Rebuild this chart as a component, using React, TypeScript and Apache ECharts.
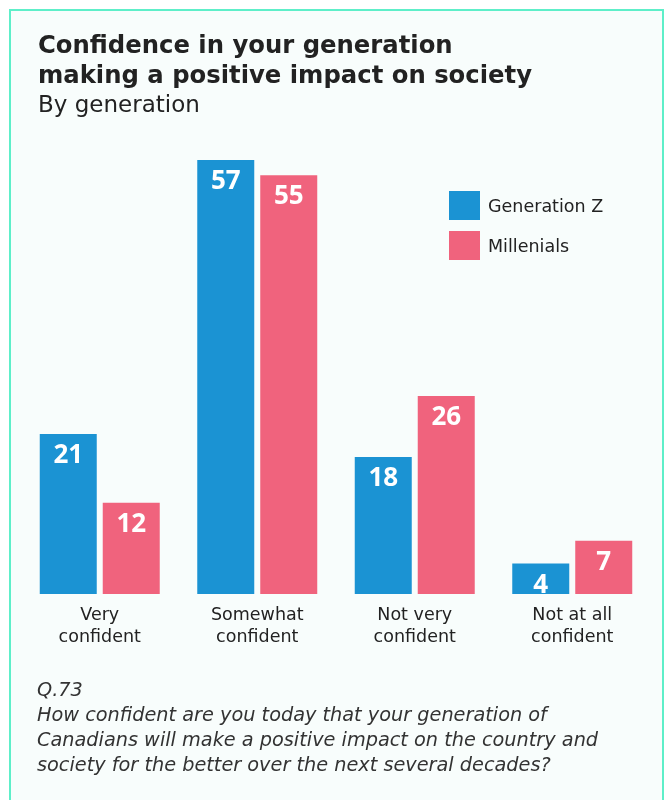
import React, { useEffect, useRef } from "react";
import * as echarts from "echarts";

const categories = ["Very\nconfident", "Somewhat\nconfident", "Not very\nconfident", "Not at all\nconfident"];
const genZ = [21, 57, 18, 4];
const millenials = [12, 55, 26, 7];
const seriesNames = ["Generation Z", "Millenials"];
const titleLines = ["Confidence in your generation", "making a positive impact on society"];
const subtitle = "By generation";
const footnoteLines = [
  "Q.73",
  "How confident are you today that your generation of",
  "Canadians will make a positive impact on the country and",
  "society for the better over the next several decades?",
];

const BLUE = "#1B93D3";
const PINK = "#F0637D";
const FONT = "'DejaVu Sans', sans-serif";
const NUM_FONT = "'Open Sans', sans-serif";

export default function App() {
  const ref = useRef<HTMLDivElement>(null);
  useEffect(() => {
    if (!ref.current) return;
    const chart = echarts.init(ref.current, null, { renderer: "svg" });
    const label = {
      show: true,
      position: "insideTop",
      distance: 6,
      color: "#fff",
      fontSize: 26,
      fontWeight: "bold",
      fontFamily: NUM_FONT,
    };
    chart.setOption({
      animation: false,
      graphic: [
        {
          type: "rect",
          z: 0,
          shape: { x: 10, y: 10, width: 653, height: 800 },
          style: { fill: "#F8FDFC", stroke: "#5EEFC9", lineWidth: 2 },
        },
        ...titleLines.map((t, i) => ({
          type: "text",
          z: 1,
          x: 38,
          y: 32 + i * 30,
          style: { text: t, fill: "#222", font: `bold 24.3px ${FONT}` },
        })),
        {
          type: "text",
          z: 1,
          x: 38,
          y: 92,
          style: { text: subtitle, fill: "#222", font: `23px ${FONT}` },
        },
        ...footnoteLines.map((t, i) => ({
          type: "text",
          z: 1,
          x: 37,
          y: 680 + i * 25,
          style: { text: t, fill: "#333", font: `oblique 19.3px ${FONT}` },
        })),
      ],
      legend: {
        orient: "vertical",
        left: 444,
        top: 186,
        itemWidth: 31,
        itemHeight: 29,
        itemGap: 11,
        icon: "rect",
        textStyle: {
          fontSize: 17.5,
          color: "#222",
          fontFamily: FONT,
          padding: [0, 0, 0, 3],
        },
        data: seriesNames,
      },
      grid: { left: 21, right: 14, top: 160, bottom: 206, containLabel: false },
      xAxis: {
        type: "category",
        data: categories,
        axisLine: { show: false },
        axisTick: { show: false },
        axisLabel: {
          color: "#222",
          fontSize: 17.5,
          fontFamily: FONT,
          lineHeight: 22,
          margin: 9,
          interval: 0,
        },
      },
      yAxis: { type: "value", min: 0, max: 57, show: false, splitLine: { show: false } },
      series: [
        {
          name: seriesNames[0],
          type: "bar",
          data: genZ,
          barWidth: 57,
          barGap: "10.5%",
          itemStyle: { color: BLUE },
          label,
          z: 2,
        },
        {
          name: seriesNames[1],
          type: "bar",
          data: millenials,
          barWidth: 57,
          barGap: "10.5%",
          itemStyle: { color: PINK },
          label,
          z: 2,
        },
      ],
    });
    return () => chart.dispose();
  }, []);
  return (
    <div
      ref={ref}
      style={{ position: "fixed", left: 0, top: 0, width: 665, height: 800 }}
    />
  );
}
